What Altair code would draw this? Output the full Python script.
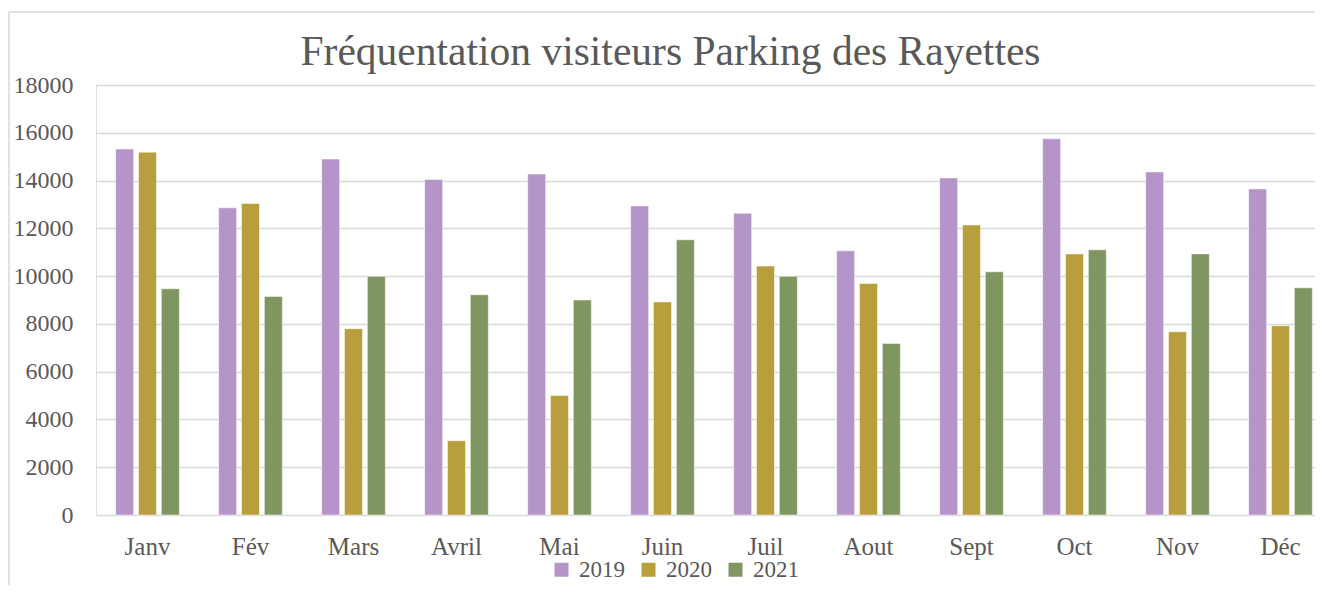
import altair as alt
import pandas as pd

months = ["Janv", "Fév", "Mars", "Avril", "Mai", "Juin", "Juil", "Aout", "Sept", "Oct", "Nov", "Déc"]
years = ["2019", "2020", "2021"]
v2019 = [15320, 12860, 14900, 14040, 14270, 12940, 12630, 11060, 14110, 15750, 14360, 13650]
v2020 = [15190, 13040, 7800, 3110, 5000, 8920, 10420, 9690, 12140, 10930, 7670, 7920]
v2021 = [9470, 9150, 9990, 9220, 9000, 11520, 9990, 7180, 10180, 11100, 10930, 9510]
colors = ["#B594C9", "#B89E3C", "#7F9660"]

rows = []
for y, vals in zip(years, [v2019, v2020, v2021]):
    for m, v in zip(months, vals):
        rows.append({"Mois": m, "Année": y, "Visiteurs": v})
df = pd.DataFrame(rows)

FONT = "Liberation Serif"
TXT = "#595959"

bars = alt.Chart(df).mark_bar(stroke="white", strokeWidth=1, strokeOpacity=0.5).encode(
    x=alt.X("Mois:N", sort=months,
            scale=alt.Scale(paddingInner=0.3816, paddingOuter=0.1908, range=[0, 1236]),
            axis=alt.Axis(title=None, labelAngle=0, ticks=False, tickSize=0, domain=False,
                          labelFont=FONT, labelFontSize=25, labelColor=TXT,
                          labelBaseline="alphabetic", labelPadding=39.5, grid=False)),
    xOffset=alt.XOffset("Année:N", sort=years,
                        scale=alt.Scale(paddingInner=0.212, paddingOuter=0)),
    y=alt.Y("Visiteurs:Q",
            scale=alt.Scale(domain=[0, 18000], nice=False),
            axis=alt.Axis(title=None, values=list(range(0, 18001, 2000)), ticks=False,
                          tickSize=0, domain=False, labelFont=FONT, labelFontSize=24,
                          labelColor=TXT, labelPadding=23, labelBaseline="middle",
                          gridColor="#D9D9D9", gridWidth=1.5, format="d")),
    color=alt.Color("Année:N", sort=years,
                    scale=alt.Scale(domain=years, range=colors),
                    legend=alt.Legend(title=None, orient="none", legendX=454, legendY=473,
                                      direction="horizontal", symbolType="square",
                                      symbolSize=196, symbolStrokeWidth=0, labelFont=FONT,
                                      labelFontSize=23, labelColor=TXT, labelOffset=6,
                                      columnPadding=12, padding=0)),
)

one = pd.DataFrame({"a": [0]})
left_edge = alt.Chart(one).mark_rule(stroke="#D9D9D9", strokeWidth=1.5).encode(
    x=alt.value(-87), y=alt.value(-73), y2=alt.value(700))
top_edge = alt.Chart(one).mark_rule(stroke="#D9D9D9", strokeWidth=1.5).encode(
    x=alt.value(-87), x2=alt.value(1400), y=alt.value(-73))

chart = alt.layer(left_edge, top_edge, bars).properties(
    width=1219,
    height=430,
    autosize=alt.AutoSizeParams(type="none"),
    padding={"left": 88, "top": 77, "right": 0, "bottom": 70},
    title=alt.Title("Fréquentation visiteurs Parking des Rayettes", font=FONT, fontSize=41.5,
                    fontWeight="normal", color=TXT, anchor="middle", dx=-35, offset=-95,
                    baseline="alphabetic"),
).configure_view(stroke=None).configure(background="white")

chart.save("out.html", embed_options={"renderer": "svg", "actions": False})
